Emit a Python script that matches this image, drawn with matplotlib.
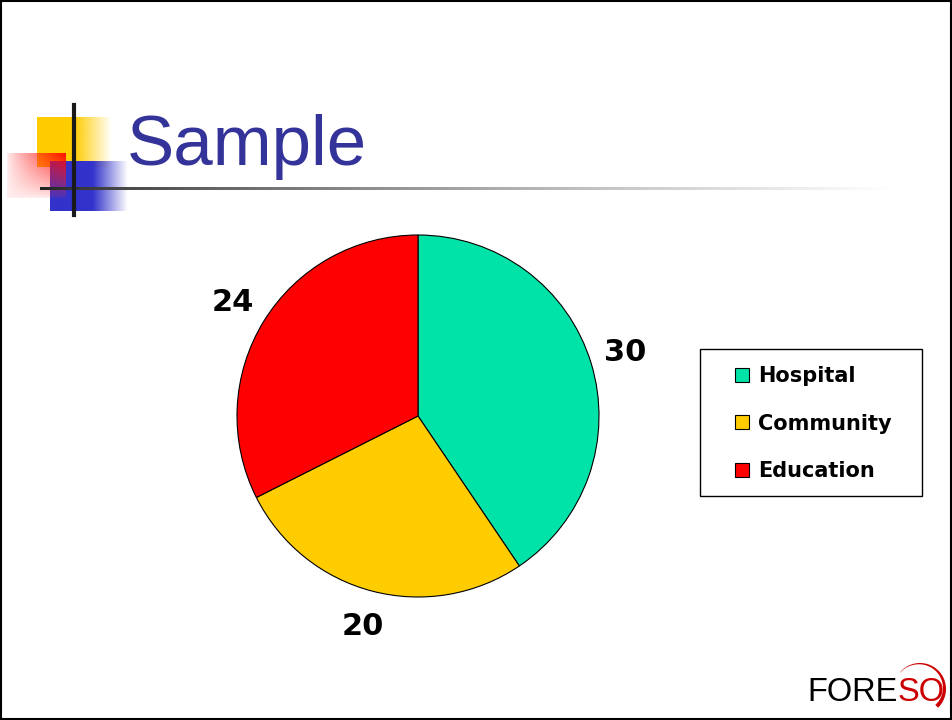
import numpy as np
import matplotlib
matplotlib.use("Agg")
import matplotlib.pyplot as plt
from matplotlib.patches import Rectangle, Polygon, Patch

categories = ["Hospital", "Community", "Education"]
values = [30, 20, 24]
colors = ["#00E3A8", "#FFCC00", "#FF0000"]
title = "Sample"

W, H = 953, 720
fig = plt.figure(figsize=(W / 100, H / 100), dpi=100)
fig.patch.set_facecolor("white")

# background layer in pixel coordinates
bg = fig.add_axes([0, 0, 1, 1])
bg.set_xlim(0, W)
bg.set_ylim(H, 0)
bg.axis("off")


def hfade(color, x0, x1, y0, y1, solid=0.5):
    t = np.linspace(0, 1, 200)
    a = np.where(t < solid, 1.0, 1 - (t - solid) / (1 - solid))
    img = np.zeros((1, 200, 4))
    img[..., :3] = matplotlib.colors.to_rgb(color)
    img[..., 3] = a
    bg.imshow(img, extent=(x0, x1, y1, y0), aspect="auto", interpolation="bilinear")


# decoration squares
hfade("#FFCC00", 37, 112, 117, 167, solid=0.5)
hfade("#3333CC", 50, 128, 161, 211, solid=0.55)

u, v = np.meshgrid(np.linspace(0, 1, 80), np.linspace(0, 1, 80))
red = np.zeros((80, 80, 4))
red[..., 0] = 1.0
red[..., 1] = 0.15 * (1 - u * (1 - v))
red[..., 2] = 0.15 * (1 - u * (1 - v))
red[..., 3] = 0.08 + 0.85 * (u * (1 - v)) ** 0.8
bg.imshow(red, extent=(7, 66, 198, 153), aspect="auto", interpolation="bilinear")

# title rule with gradient
t = np.linspace(0, 1, 400)
g = 0.13 + 0.87 * t ** 0.75
rule = np.zeros((1, 400, 4))
rule[..., 0] = g
rule[..., 1] = g
rule[..., 2] = g
rule[..., 3] = 1
bg.imshow(rule, extent=(40, 890, 190.5, 187.5), aspect="auto", interpolation="bilinear")
bg.plot([74, 74], [105, 215], color="#1a1a1a", lw=3)

bg.text(127, 165, title, fontsize=51, color="#333399", family="Liberation Sans",
        va="baseline", ha="left")

# slide border
bg.add_patch(Rectangle((0.5, 0.5), W - 2, H - 1.5, fill=False, ec="black", lw=1.5))

# legend frame
bg.add_patch(Rectangle((700, 349), 222, 147, fill=False, ec="black", lw=1))

# logo
bg.text(898, 701, "FORE", fontsize=23.5, family="Liberation Sans", color="black",
        ha="right", va="baseline")
bg.text(898, 701, "SO", fontsize=23.5, family="Liberation Sans", color="#CC0000",
        ha="left", va="baseline")
ang = np.radians(np.linspace(140, -46, 80))
cx, cy, R = 920, 689, 26
w = np.linspace(0.3, 4.0, 80)
outer = np.column_stack([cx + R * np.cos(ang), cy - R * np.sin(ang)])
inner = np.column_stack([cx + (R - w) * np.cos(ang), cy - (R - w) * np.sin(ang)])
bg.add_patch(Polygon(np.vstack([outer, inner[::-1]]), closed=True, fc="#CC0000", ec="none"))

# pie
cxp, cyp, r = 418, 416, 181
ax = fig.add_axes([(cxp - r) / W, (H - cyp - r) / H, 2 * r / W, 2 * r / H])
total = sum(values)
ax.pie(values, colors=colors, startangle=90, counterclock=False,
       wedgeprops=dict(edgecolor="black", linewidth=0.8),
       autopct=lambda p: "%d" % round(p * total / 100), pctdistance=1.2,
       textprops=dict(fontsize=22, fontweight="bold", family="DejaVu Sans"))
ax.set_xlim(-1, 1)
ax.set_ylim(-1, 1)
ax.set_aspect("equal")

handles = [Patch(facecolor=c, edgecolor="black", linewidth=0.8) for c in colors]
fig.legend(handles, categories, loc="upper left",
           bbox_to_anchor=(735 / W, 1 - 366 / H), frameon=False,
           borderpad=0, borderaxespad=0, handlelength=0.65, handleheight=0.65,
           handletextpad=0.45, labelspacing=1.33,
           prop=dict(size=15, weight="bold", family="DejaVu Sans"))

fig.savefig("out.png", dpi=100)
